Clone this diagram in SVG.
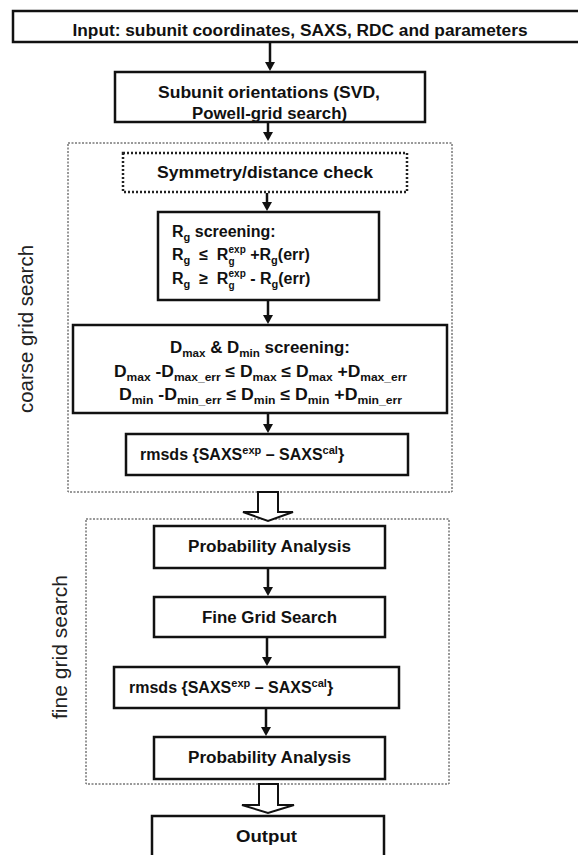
<svg xmlns="http://www.w3.org/2000/svg" width="578" height="855" viewBox="0 0 578 855">
  <style>
    .box { fill: #fff; stroke: #111; stroke-width: 2.5; }
    .dotbox { fill: #fff; stroke: #222; stroke-width: 2.5; stroke-dasharray: 2 2; }
    .region { fill: none; stroke: #333; stroke-width: 1; stroke-dasharray: 2 1.5; }
    .t { font-family: "Liberation Sans", Arial, sans-serif; font-weight: bold; font-size: 16px; fill: #111; }
    .c { text-anchor: middle; }
    .lbl { font-family: "Liberation Sans", Arial, sans-serif; font-size: 20px; fill: #222; text-anchor: middle; }
    .s { font-size: 11px; }
    .xs { font-size: 10px; }
    .arrow { stroke: #111; stroke-width: 2.5; fill: none; marker-end: url(#head); }
    .hollow { fill: #fff; stroke: #111; stroke-width: 2; stroke-linejoin: miter; }
  </style>
  <defs>
    <marker id="head" markerUnits="userSpaceOnUse" markerWidth="11" markerHeight="11" refX="2" refY="5" orient="auto">
      <path d="M0,0 L9,5 L0,10 z" fill="#111"/>
    </marker>
  </defs>
  <rect width="578" height="855" fill="#fff"/>

  <!-- search stage regions -->
  <g id="coarse-grid-search">
    <rect class="region" x="68" y="143" width="384" height="349"/>
    <text class="lbl" transform="translate(33,329) rotate(-90)" textLength="168" lengthAdjust="spacingAndGlyphs">coarse grid search</text>
  </g>
  <g id="fine-grid-search">
    <rect class="region" x="86" y="519" width="363" height="265"/>
    <text class="lbl" transform="translate(67,647) rotate(-90)" textLength="144" lengthAdjust="spacingAndGlyphs">fine grid search</text>
  </g>

  <!-- nodes -->
  <g id="input">
    <rect class="box" x="13" y="11" width="580" height="31" stroke-width="3"/>
    <text class="t c" x="300" y="36" textLength="455" lengthAdjust="spacingAndGlyphs">Input: subunit coordinates, SAXS, RDC and parameters</text>
  </g>
  <g id="orientations">
    <rect class="box" x="115" y="72" width="310" height="50"/>
    <text class="t c" x="269" y="98" textLength="222" lengthAdjust="spacingAndGlyphs">Subunit orientations (SVD,</text>
    <text class="t c" x="269.5" y="119" textLength="155" lengthAdjust="spacingAndGlyphs">Powell-grid search)</text>
  </g>
  <g id="symmetry">
    <rect class="dotbox" x="123" y="153" width="284" height="39"/>
    <text class="t c" x="265" y="178" textLength="216" lengthAdjust="spacingAndGlyphs">Symmetry/distance check</text>
  </g>
  <g id="rg-screening">
    <rect class="box" x="158" y="212" width="221" height="88"/>
    <text class="t" x="172" y="237">R<tspan class="s" dy="4">g</tspan><tspan dy="-4"> screening:</tspan></text>
    <text class="t" x="172" y="260" xml:space="preserve">R<tspan class="s" dy="4">g</tspan><tspan dy="-4">  ≤  R</tspan><tspan class="xs" dy="5">g</tspan><tspan class="xs" dx="-6" dy="-12">exp</tspan><tspan dy="7"> +R</tspan><tspan class="s" dy="4">g</tspan><tspan dy="-4">(err)</tspan></text>
    <text class="t" x="172" y="284" xml:space="preserve">R<tspan class="s" dy="4">g</tspan><tspan dy="-4">  ≥  R</tspan><tspan class="xs" dy="5">g</tspan><tspan class="xs" dx="-6" dy="-12">exp</tspan><tspan dy="7"> - R</tspan><tspan class="s" dy="4">g</tspan><tspan dy="-4">(err)</tspan></text>
  </g>
  <g id="dmax-dmin-screening">
    <rect class="box" x="73" y="325" width="374" height="88"/>
    <text class="t c" x="260" y="353" textLength="180" lengthAdjust="spacingAndGlyphs">D<tspan class="s" dy="4">max</tspan><tspan dy="-4"> &amp; D</tspan><tspan class="s" dy="4">min</tspan><tspan dy="-4"> screening:</tspan></text>
    <text class="t c" x="260.5" y="377" textLength="293" lengthAdjust="spacingAndGlyphs">D<tspan class="s" dy="4">max</tspan><tspan dy="-4"> -D</tspan><tspan class="s" dy="4">max_err</tspan><tspan dy="-4"> ≤ D</tspan><tspan class="s" dy="4">max</tspan><tspan dy="-4"> ≤ D</tspan><tspan class="s" dy="4">max</tspan><tspan dy="-4"> +D</tspan><tspan class="s" dy="4">max_err</tspan></text>
    <text class="t c" x="260.5" y="400" textLength="283" lengthAdjust="spacingAndGlyphs">D<tspan class="s" dy="4">min</tspan><tspan dy="-4"> -D</tspan><tspan class="s" dy="4">min_err</tspan><tspan dy="-4"> ≤ D</tspan><tspan class="s" dy="4">min</tspan><tspan dy="-4"> ≤ D</tspan><tspan class="s" dy="4">min</tspan><tspan dy="-4"> +D</tspan><tspan class="s" dy="4">min_err</tspan></text>
  </g>
  <g id="rmsd-coarse">
    <rect class="box" x="126" y="434" width="282" height="41"/>
    <text class="t" x="140" y="460">rmsds {SAXS<tspan class="s" dy="-6">exp</tspan><tspan dy="6"> – SAXS</tspan><tspan class="s" dy="-6">cal</tspan><tspan dy="6">}</tspan></text>
  </g>
  <g id="probability-1">
    <rect class="box" x="154" y="526" width="231" height="42"/>
    <text class="t c" x="269.5" y="552" textLength="163" lengthAdjust="spacingAndGlyphs">Probability Analysis</text>
  </g>
  <g id="fine-search">
    <rect class="box" x="154" y="597" width="231" height="40"/>
    <text class="t c" x="269.5" y="623" textLength="135" lengthAdjust="spacingAndGlyphs">Fine Grid Search</text>
  </g>
  <g id="rmsd-fine">
    <rect class="box" x="114" y="667" width="285" height="41"/>
    <text class="t" x="129" y="693">rmsds {SAXS<tspan class="s" dy="-6">exp</tspan><tspan dy="6"> – SAXS</tspan><tspan class="s" dy="-6">cal</tspan><tspan dy="6">}</tspan></text>
  </g>
  <g id="probability-2">
    <rect class="box" x="154" y="737" width="231" height="42"/>
    <text class="t c" x="269.5" y="763" textLength="163" lengthAdjust="spacingAndGlyphs">Probability Analysis</text>
  </g>
  <g id="output">
    <rect class="box" x="152" y="816" width="232" height="46"/>
    <text class="t c" x="266.5" y="842" textLength="61" lengthAdjust="spacingAndGlyphs">Output</text>
  </g>

  <!-- connectors -->
  <g id="connectors">
    <line class="arrow" x1="270" y1="43" x2="270" y2="64"/>
    <line class="arrow" x1="268" y1="123" x2="268" y2="134"/>
    <line class="arrow" x1="267" y1="193" x2="267" y2="204"/>
    <line class="arrow" x1="268" y1="301" x2="268" y2="317"/>
    <line class="arrow" x1="268" y1="414" x2="268" y2="426"/>
    <line class="arrow" x1="268" y1="569" x2="268" y2="589"/>
    <line class="arrow" x1="267" y1="638" x2="267" y2="659"/>
    <line class="arrow" x1="266" y1="709" x2="266" y2="729"/>
    <path class="hollow" d="M258,492 L278,492 L278,512 L293,512 L268,521 L243,512 L258,512 Z"/>
    <path class="hollow" d="M259,784 L278,784 L278,805 L294,805 L268,813 L242,805 L259,805 Z"/>
  </g>
</svg>
